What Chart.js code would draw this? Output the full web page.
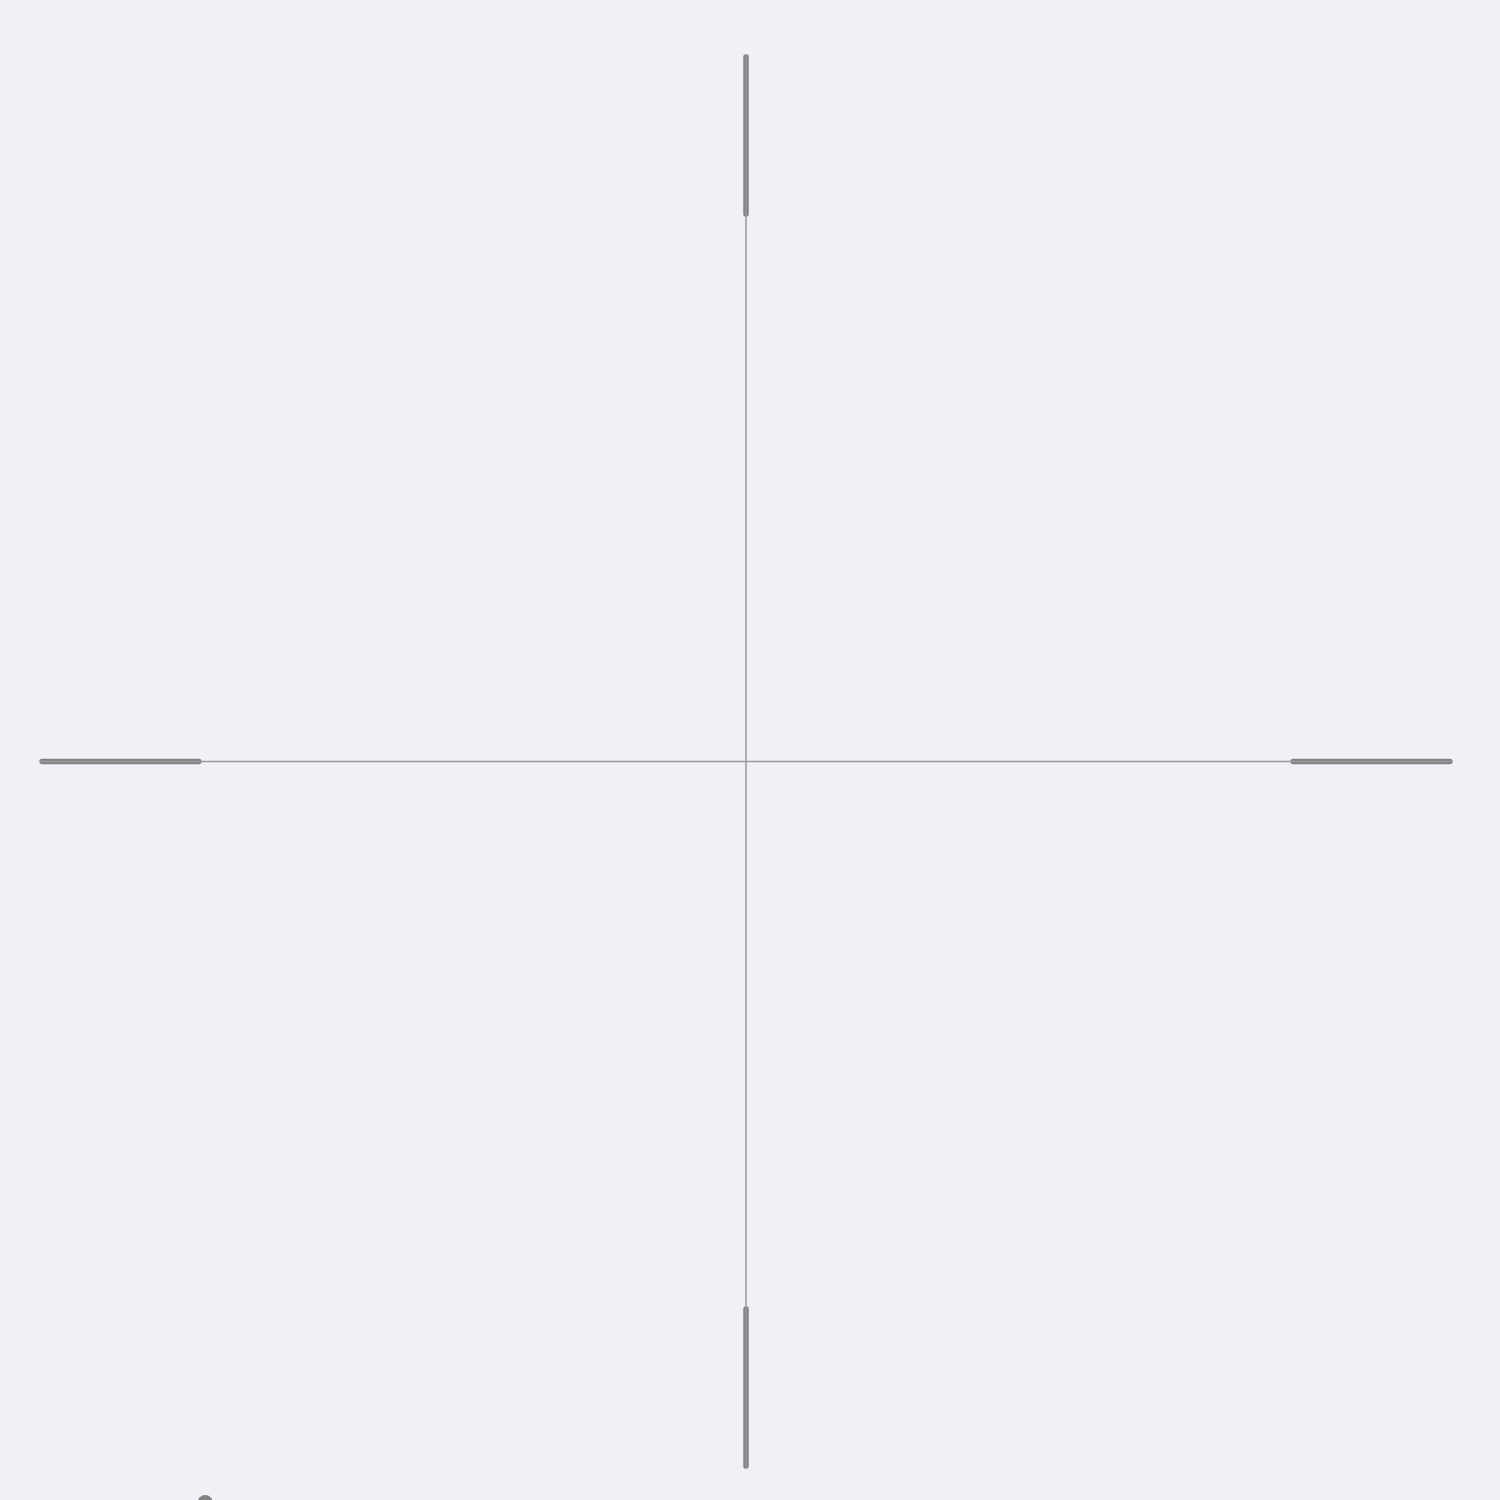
<!DOCTYPE html>
<html>
<head>
<meta charset="utf-8">
<script src="https://cdn.jsdelivr.net/npm/chart.js@4/dist/chart.umd.min.js"></script>
<style>
  html, body { margin: 0; padding: 0; background: #f0f1f6; }
  canvas { display: block; }
</style>
</head>
<body>
<canvas id="grafico" width="1500" height="1500"></canvas>
<script>
// Ejes de la cruz (unidades del grafico)
const crossX = [-1, 1];
const crossY = [-1, 1];
// Tramos gruesos de los extremos
const capLeft = [-0.997, -0.775];
const capRight = [0.775, 0.997];
const capTop = [0.775, 0.997];
const capBottom = [-0.997, -0.775];
// Punto cortado abajo a la izquierda
const markerX = [-0.766];
const markerY = [-1.049];

function segmento(xs, ys) {
  return xs.map((x, i) => ({ x: x, y: ys[i] }));
}

const thinStyle = { borderColor: '#9a9a9a', borderWidth: 1.5, pointRadius: 0, showLine: true, fill: false };
const thickStyle = { borderColor: '#828282', borderWidth: 5.5, borderCapStyle: 'round', pointRadius: 0, showLine: true, fill: false };

const datasets = [
  Object.assign({ data: segmento(crossX, [0, 0]) }, thinStyle),
  Object.assign({ data: segmento([0, 0], crossY) }, thinStyle),
  Object.assign({ data: segmento(capLeft, [0, 0]) }, thickStyle),
  Object.assign({ data: segmento(capRight, [0, 0]) }, thickStyle),
  Object.assign({ data: segmento([0, 0], capTop) }, thickStyle),
  Object.assign({ data: segmento([0, 0], capBottom) }, thickStyle),
  {
    data: segmento(markerX, markerY),
    showLine: false,
    pointRadius: 7.5,
    pointBackgroundColor: '#828282',
    pointBorderWidth: 0,
    clip: false
  }
];

const ctx = document.getElementById('grafico').getContext('2d');
new Chart(ctx, {
  type: 'scatter',
  data: { datasets: datasets },
  options: {
    responsive: false,
    animation: false,
    layout: { padding: 0, autoPadding: false },
    plugins: { legend: { display: false }, tooltip: { enabled: false } },
    scales: {
      x: { type: 'linear', min: -1.0567, max: 1.068, display: false },
      y: { type: 'linear', min: -1.0453, max: 1.0778, display: false }
    }
  }
});
</script>
</body>
</html>
